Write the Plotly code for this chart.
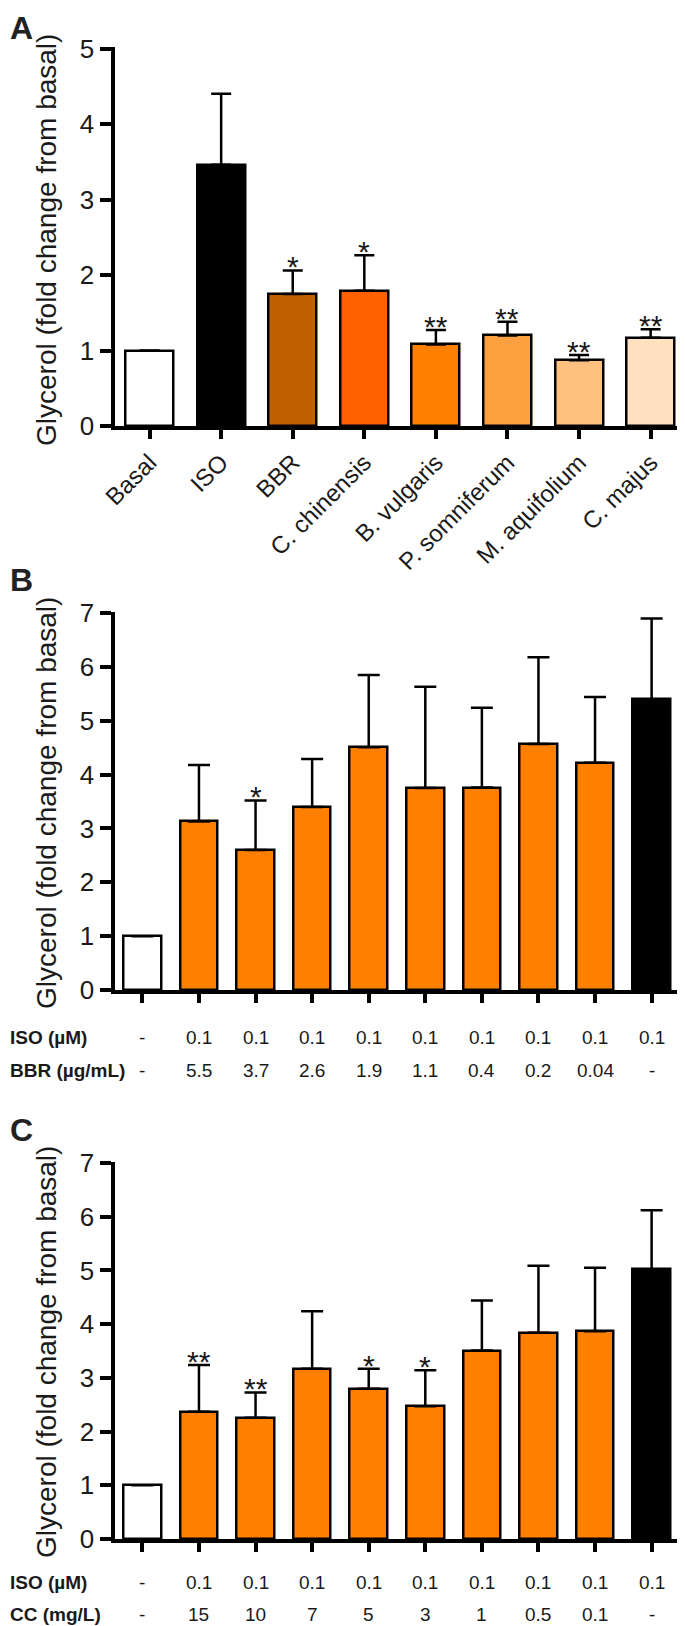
import plotly.graph_objects as go

# page is 685x1626 but the browser body adds an 8px margin, so the
# figure is drawn 8px in from the top-left corner
PAGE_W, PAGE_H = 685, 1626
OFF = 8
W, H = PAGE_W - OFF, PAGE_H - OFF

# ---------------- data ----------------
a_categories = ["Basal", "ISO", "BBR", "C. chinensis", "B. vulgaris",
                "P. somniferum", "M. aquifolium", "C. majus"]
a_values = [1.0, 3.46, 1.75, 1.79, 1.08, 1.20, 0.87, 1.17]
a_errors = [0.0, 0.94, 0.31, 0.47, 0.19, 0.18, 0.07, 0.11]
a_sig = ["", "", "*", "*", "**", "**", "**", "**"]
a_colors = ["#FFFFFF", "#000000", "#C06000", "#FF6000", "#FF8000",
            "#FFA040", "#FFC080", "#FFE0C0"]

b_values = [1.0, 3.13, 2.60, 3.40, 4.51, 3.75, 3.76, 4.57, 4.22, 5.40]
b_errors = [0.0, 1.05, 0.92, 0.89, 1.34, 1.88, 1.48, 1.61, 1.22, 1.50]
b_sig = ["", "", "*", "", "", "", "", "", "", ""]
b_iso = ["-", "0.1", "0.1", "0.1", "0.1", "0.1", "0.1", "0.1", "0.1", "0.1"]
b_bbr = ["-", "5.5", "3.7", "2.6", "1.9", "1.1", "0.4", "0.2", "0.04", "-"]

c_values = [1.0, 2.37, 2.26, 3.17, 2.80, 2.47, 3.51, 3.84, 3.87, 5.02]
c_errors = [0.0, 0.87, 0.47, 1.07, 0.37, 0.67, 0.93, 1.25, 1.18, 1.10]
c_sig = ["", "**", "**", "", "*", "*", "", "", "", ""]
c_iso = ["-", "0.1", "0.1", "0.1", "0.1", "0.1", "0.1", "0.1", "0.1", "0.1"]
c_cc = ["-", "15", "10", "7", "5", "3", "1", "0.5", "0.1", "-"]

bc_colors = ["#FFFFFF"] + ["#FF8000"] * 8 + ["#000000"]

FONT = "Arial, Liberation Sans, sans-serif"
TXT = "#1a1a1a"


def px_x(px):
    return (px - OFF) / W


def px_y(px):
    return 1 - (px - OFF) / H


def err_list(e):
    return [None if v == 0 else v for v in e]


fig = go.Figure()

fig.add_trace(go.Bar(
    x=list(range(len(a_values))), y=a_values, width=0.67,
    marker=dict(color=a_colors, line=dict(color="black", width=2.5)),
    error_y=dict(type="data", symmetric=False, array=err_list(a_errors),
                 arrayminus=[0] * len(a_errors), color="black",
                 thickness=2.5, width=10),
    xaxis="x", yaxis="y", showlegend=False))

fig.add_trace(go.Bar(
    x=list(range(len(b_values))), y=b_values, width=0.665,
    marker=dict(color=bc_colors, line=dict(color="black", width=2.5)),
    error_y=dict(type="data", symmetric=False, array=err_list(b_errors),
                 arrayminus=[0] * len(b_errors), color="black",
                 thickness=2.5, width=11),
    xaxis="x2", yaxis="y2", showlegend=False))

fig.add_trace(go.Bar(
    x=list(range(len(c_values))), y=c_values, width=0.665,
    marker=dict(color=bc_colors, line=dict(color="black", width=2.5)),
    error_y=dict(type="data", symmetric=False, array=err_list(c_errors),
                 arrayminus=[0] * len(c_errors), color="black",
                 thickness=2.5, width=11),
    xaxis="x3", yaxis="y3", showlegend=False))

x0 = px_x(114.5)
xaxis_common = dict(showline=True, linewidth=4, linecolor="black",
                    ticks="outside", ticklen=9, tickwidth=4, tickcolor="black",
                    showgrid=False, zeroline=False, domain=[x0, 1.0],
                    automargin=False)
yaxis_common = dict(showline=True, linewidth=4, linecolor="black",
                    ticks="outside", ticklen=11, tickwidth=4, tickcolor="black",
                    showgrid=False, zeroline=False, automargin=False,
                    tickfont=dict(family=FONT, size=26, color=TXT))

fig.update_layout(
    width=W, height=H, margin=dict(l=0, r=0, t=0, b=0, pad=0),
    autosize=False,
    paper_bgcolor="white", plot_bgcolor="white", bargap=0,
    xaxis=dict(**xaxis_common, range=[-0.49, 7.48], anchor="y",
               tickmode="array", tickvals=list(range(len(a_categories))),
               ticktext=a_categories, tickangle=-45,
               tickfont=dict(family=FONT, size=24, color=TXT)),
    yaxis=dict(**yaxis_common, range=[0, 5.02], dtick=1, anchor="x",
               domain=[px_y(426), px_y(47)]),
    xaxis2=dict(**xaxis_common, range=[-0.493, 9.59], anchor="y2",
                tickmode="array", tickvals=list(range(10)),
                showticklabels=False),
    yaxis2=dict(**yaxis_common, range=[0, 7.02], dtick=1, anchor="x2",
                domain=[px_y(990), px_y(612)]),
    xaxis3=dict(**xaxis_common, range=[-0.493, 9.59], anchor="y3",
                tickmode="array", tickvals=list(range(10)),
                showticklabels=False),
    yaxis3=dict(**yaxis_common, range=[0, 7.02], dtick=1, anchor="x3",
                domain=[px_y(1539), px_y(1162)]),
)

ann = []
# panel letters
ann.append(dict(text="<b>A</b>", xref="paper", yref="paper", x=0, y=1,
                xanchor="left", yanchor="top", showarrow=False,
                font=dict(family=FONT, size=32, color="#222222")))
for letter, ypx in [("B", 580), ("C", 1130)]:
    ann.append(dict(text="<b>%s</b>" % letter, xref="paper", yref="paper",
                    x=0, y=px_y(ypx), xanchor="left", yanchor="middle",
                    showarrow=False,
                    font=dict(family=FONT, size=32, color="#222222")))

for ycen in [240, 803, 1352]:
    ann.append(dict(text="Glycerol (fold change from basal)", xref="paper",
                    yref="paper", x=px_x(46), y=px_y(ycen), xanchor="center",
                    yanchor="middle", textangle=-90, showarrow=False,
                    font=dict(family=FONT, size=28, color=TXT)))


def add_stars(sig, vals, errs, xr, yr):
    for i, s in enumerate(sig):
        if s:
            ann.append(dict(text=s, xref=xr, yref=yr, x=i, y=vals[i] + errs[i],
                            xanchor="center", yanchor="bottom", yshift=-15,
                            showarrow=False,
                            font=dict(family=FONT, size=30, color=TXT)))


add_stars(a_sig, a_values, a_errors, "x", "y")
add_stars(b_sig, b_values, b_errors, "x2", "y2")
add_stars(c_sig, c_values, c_errors, "x3", "y3")


def add_row(label, items, xr, ypx):
    ann.append(dict(text="<b>%s</b>" % label, xref="paper", yref="paper",
                    x=0, y=px_y(ypx), xanchor="left", yanchor="middle",
                    showarrow=False, font=dict(family=FONT, size=19, color=TXT)))
    for i, t in enumerate(items):
        ann.append(dict(text=t, xref=xr, yref="paper", x=i, y=px_y(ypx),
                        xanchor="center", yanchor="middle", showarrow=False,
                        font=dict(family=FONT, size=19, color=TXT)))


add_row("ISO (µM)", b_iso, "x2", 1037)
add_row("BBR (µg/mL)", b_bbr, "x2", 1070)
add_row("ISO (µM)", c_iso, "x3", 1582)
add_row("CC (mg/L)", c_cc, "x3", 1614)

fig.update_layout(annotations=ann)
fig.write_html("out.html")
